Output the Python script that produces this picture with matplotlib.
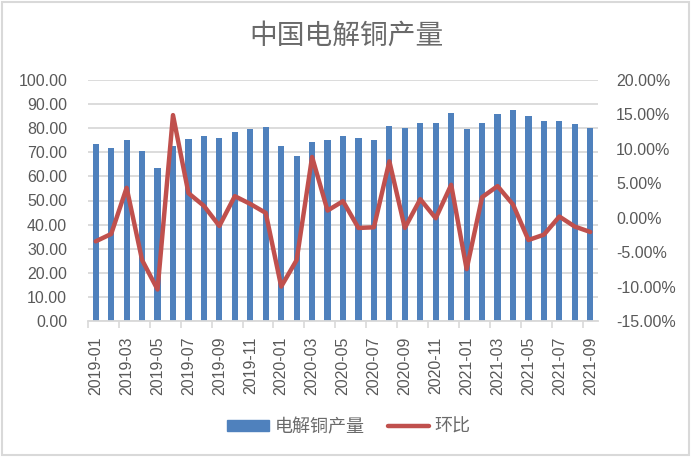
import matplotlib
matplotlib.use("Agg")
import matplotlib.pyplot as plt
from matplotlib.ticker import FuncFormatter, MultipleLocator, FixedLocator
from matplotlib.patches import Rectangle

plt.rcParams['font.family'] = ['Liberation Sans', 'Noto Sans CJK SC', 'DejaVu Sans']

# monthly data, 2019-01 .. 2021-09
months = [f"{y}-{m:02d}" for y in (2019, 2020, 2021) for m in range(1, 13)][:33]

output = [73.3, 71.7, 75.0, 70.6, 63.3, 72.5, 75.4, 76.7, 75.8, 78.5, 79.6, 80.4,
          72.5, 68.3, 74.2, 75.0, 76.7, 75.8, 75.0, 80.8, 80.0, 82.1, 82.1, 86.3,
          79.6, 82.1, 85.8, 87.5, 85.0, 82.9, 82.9, 81.7, 80.0]

mom = [-3.43, -2.36, 4.35, -6.15, -10.43, 14.9, 3.57, 1.72, -1.2, 3.13, 2.0, 0.7,
       -10.0, -6.15, 8.82, 1.04, 2.4, -1.49, -1.39, 8.19, -1.49, 2.69, -0.08, 4.78,
       -7.47, 2.98, 4.59, 1.92, -3.24, -2.46, 0.17, -1.29, -2.07]

bar_color = '#4f81bd'
line_color = '#c0504d'
text_color = '#595959'
grid_color = '#d9d9d9'

fig = plt.figure(figsize=(6.91, 4.58), dpi=100)
ax = fig.add_axes([88 / 691, 1 - 321 / 458, (598 - 88) / 691, (321 - 80) / 458])
ax2 = ax.twinx()

x = list(range(len(months)))
ax.bar(x, output, width=0.4, color=bar_color, zorder=2)
ax2.plot(x, mom, color=line_color, linewidth=3.2, solid_capstyle='round',
         solid_joinstyle='round', zorder=3)

ax.set_xlim(-0.5, len(months) - 0.5)
ax.set_ylim(0, 100)
ax2.set_ylim(-15, 20)
ax.yaxis.set_major_locator(MultipleLocator(10))
ax2.yaxis.set_major_locator(MultipleLocator(5))
ax.yaxis.set_major_formatter(FuncFormatter(lambda v, p: f"{v:.2f}"))
ax2.yaxis.set_major_formatter(FuncFormatter(lambda v, p: f"{v:.2f}%"))

ax.grid(axis='y', color=grid_color, linewidth=1.3, zorder=0)
ax.set_axisbelow(True)

# labels under every other month, tick marks between pairs
ax.xaxis.set_major_locator(FixedLocator(x[::2]))
ax.set_xticklabels(months[::2], rotation=90)
ax.xaxis.set_minor_locator(FixedLocator([i - 0.5 for i in range(0, len(months) + 1, 2)]))
ax.tick_params(axis='x', which='major', length=0, pad=11, labelsize=11.5, labelcolor=text_color)
ax.tick_params(axis='x', which='minor', length=5, width=1.2, color=grid_color)
ax.tick_params(axis='y', length=0, pad=15, labelsize=11.5, labelcolor=text_color)
ax2.tick_params(axis='y', length=0, pad=13, labelsize=11.5, labelcolor=text_color)

for a in (ax, ax2):
    for s in ('top', 'left', 'right', 'bottom'):
        a.spines[s].set_visible(False)
ax.spines['bottom'].set_visible(True)
ax.spines['bottom'].set_color(grid_color)
ax.spines['bottom'].set_linewidth(1.3)

fig.text(346 / 691, 1 - 36 / 458, "中国电解铜产量", ha='center', va='center',
         fontsize=20, color='#6a6a6a', family=['Noto Sans CJK SC'], fontweight='light')

bar_handle = Rectangle((0, 0), 1, 1, color=bar_color)
line_handle = plt.Line2D([], [], color=line_color, linewidth=3.2, solid_capstyle='round')
leg = fig.legend([bar_handle, line_handle], ["电解铜产量", "环比"], ncol=2,
                 loc='center', bbox_to_anchor=(349 / 691, 1 - 427 / 458),
                 frameon=False, handlelength=2.3, handleheight=0.6, columnspacing=1.3,
                 handletextpad=0.3, prop={'family': ['Noto Sans CJK SC'], 'size': 13})
for t in leg.get_texts():
    t.set_color('#6a6a6a')

fig.patches.append(Rectangle((0.003, 0.006), 0.994, 0.99, transform=fig.transFigure,
                             fill=False, edgecolor=grid_color, linewidth=1.5))

fig.savefig("out.png", dpi=100, facecolor='white')
